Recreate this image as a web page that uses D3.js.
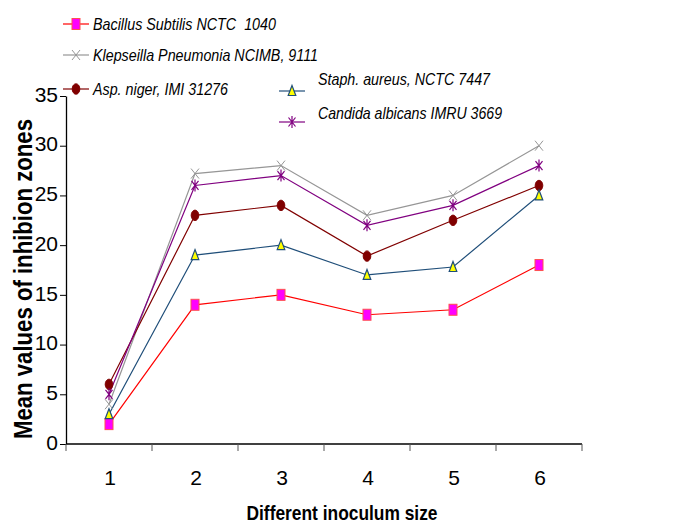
<!DOCTYPE html>
<html>
<head>
<meta charset="utf-8">
<script src="https://cdn.jsdelivr.net/npm/d3@7"></script>
<style>
  body { margin: 0; background: #fff; }
  text { font-family: "Liberation Sans", Arial, sans-serif; }
</style>
</head>
<body>
<svg id="chart" width="680" height="525"></svg>
<script>
// data
let sizes = ["1", "2", "3", "4", "5", "6"];
let bacillus = [2, 14, 15, 13, 13.5, 18];
let klepseilla = [4, 27.2, 28, 23, 25, 30];
let aspNiger = [6, 23, 24, 18.9, 22.5, 26];
let staph = [3, 19, 20, 17, 17.8, 25];
let candida = [5, 26, 27, 22, 24, 28];
let yTicks = [0, 5, 10, 15, 20, 25, 30, 35];

let series = [
  {name: "Bacillus Subtilis NCTC\u00a0 1040", values: bacillus, color: "#ff0000", marker: "square"},
  {name: "Klepseilla Pneumonia NCIMB, 9111", values: klepseilla, color: "#969696", marker: "x"},
  {name: "Asp. niger, IMI 31276", values: aspNiger, color: "#800000", marker: "circle"},
  {name: "Staph. aureus, NCTC 7447", values: staph, color: "#1f4e79", marker: "triangle"},
  {name: "Candida albicans IMRU 3669", values: candida, color: "#800080", marker: "star"}
];

let margin = {top: 96, right: 98, bottom: 81, left: 66};
let width = 680, height = 525;

let svg = d3.select("#chart");

let xScale = d3.scaleBand()
  .domain(sizes)
  .range([margin.left, width - margin.right]);

let yScale = d3.scaleLinear()
  .domain([0, 35])
  .range([height - margin.bottom, margin.top]);

// y axis
let yAxis = svg.append("g")
  .attr("transform", "translate(" + margin.left + ",0)")
  .call(d3.axisLeft(yScale).tickValues(yTicks).tickSize(6).tickPadding(2).tickSizeOuter(0));
yAxis.select(".domain").attr("stroke", "#000").attr("stroke-width", 1.3);
yAxis.selectAll(".tick line").attr("stroke", "#000");
yAxis.selectAll("text")
  .attr("y", -1.5)
  .style("font-size", "21px")
  .attr("fill", "#000");

// x axis, ticks sit between categories
let xAxisG = svg.append("g")
  .attr("transform", "translate(0," + (height - margin.bottom) + ")");
xAxisG.append("line")
  .attr("x1", margin.left).attr("x2", width - margin.right)
  .attr("stroke", "#000").attr("stroke-width", 1.3);
let bounds = sizes.map(d => xScale(d)).concat([width - margin.right]);
xAxisG.selectAll(".xt")
  .data(bounds)
  .enter()
  .append("line")
  .attr("x1", d => d).attr("x2", d => d)
  .attr("y1", 0).attr("y2", 7)
  .attr("stroke", "#555");
xAxisG.selectAll(".xl")
  .data(sizes)
  .enter()
  .append("text")
  .attr("x", d => xScale(d) + xScale.bandwidth() / 2 + 1)
  .attr("y", 41)
  .attr("text-anchor", "middle")
  .style("font-size", "21px")
  .text(d => d);

// axis titles (the original font is tall and narrow)
svg.append("text")
  .attr("x", 342)
  .attr("y", 520)
  .attr("text-anchor", "middle")
  .attr("textLength", 191)
  .attr("lengthAdjust", "spacingAndGlyphs")
  .style("font-size", "21px")
  .style("font-weight", "bold")
  .text("Different inoculum size");

svg.append("text")
  .attr("transform", "translate(32,279) rotate(-90)")
  .attr("text-anchor", "middle")
  .attr("textLength", 320)
  .attr("lengthAdjust", "spacingAndGlyphs")
  .style("font-size", "26px")
  .style("font-weight", "bold")
  .text("Mean values of inhibion zones");

function drawMarker(g, type, color) {
  if (type === "square") {
    g.append("rect").attr("x", -4).attr("y", -5.5).attr("width", 8).attr("height", 11)
      .attr("fill", "#ff00ff").attr("stroke", "#ff5050").attr("stroke-width", 1);
  } else if (type === "circle") {
    g.append("ellipse").attr("rx", 3.8).attr("ry", 5.2)
      .attr("fill", "#800000").attr("stroke", "#800000");
  } else if (type === "triangle") {
    g.append("path").attr("d", "M0,-5.5L3.8,4.5L-3.8,4.5Z")
      .attr("fill", "#ffff00").attr("stroke", "#1f4e79").attr("stroke-width", 1.2);
  } else if (type === "x") {
    g.append("path").attr("d", "M-4,-5L4,5M-4,5L4,-5")
      .attr("stroke", color).attr("stroke-width", 1);
  } else if (type === "star") {
    g.append("path").attr("d", "M-3.5,-4.5L3.5,4.5M-3.5,4.5L3.5,-4.5M0,-6L0,6")
      .attr("stroke", color).attr("stroke-width", 1.2);
  }
}

let line = d3.line()
  .x((d, i) => xScale(sizes[i]) + xScale.bandwidth() / 2)
  .y(d => yScale(d));

series.forEach(function(s) {
  svg.append("path")
    .datum(s.values)
    .attr("fill", "none")
    .attr("stroke", s.color)
    .attr("stroke-width", 1.2)
    .attr("d", line);
});

series.forEach(function(s) {
  s.values.forEach(function(v, i) {
    let g = svg.append("g")
      .attr("transform", "translate(" + (xScale(sizes[i]) + xScale.bandwidth() / 2) + "," + yScale(v) + ")");
    drawMarker(g, s.marker, s.color);
  });
});

// legend
let legendPos = [
  {lx: 63, ly: 24, tx: 93, ty: 30, tw: 183},
  {lx: 63, ly: 55, tx: 93, ty: 61, tw: 225},
  {lx: 63, ly: 89, tx: 93, ty: 95, tw: 135},
  {lx: 279, ly: 91, tx: 318, ty: 85, tw: 172},
  {lx: 279, ly: 122, tx: 318, ty: 118.5, tw: 184}
];

series.forEach(function(s, i) {
  let p = legendPos[i];
  let lg = svg.append("g");
  lg.append("line")
    .attr("x1", p.lx).attr("x2", p.lx + 26)
    .attr("y1", p.ly).attr("y2", p.ly)
    .attr("stroke", s.color).attr("stroke-width", 1.2);
  let m = lg.append("g").attr("transform", "translate(" + (p.lx + 13) + "," + p.ly + ")");
  drawMarker(m, s.marker, s.color);
  lg.append("text")
    .attr("x", p.tx)
    .attr("y", p.ty)
    .attr("textLength", p.tw)
    .attr("lengthAdjust", "spacingAndGlyphs")
    .style("font-size", "17px")
    .style("font-style", "italic")
    .text(s.name);
});
</script>
</body>
</html>
